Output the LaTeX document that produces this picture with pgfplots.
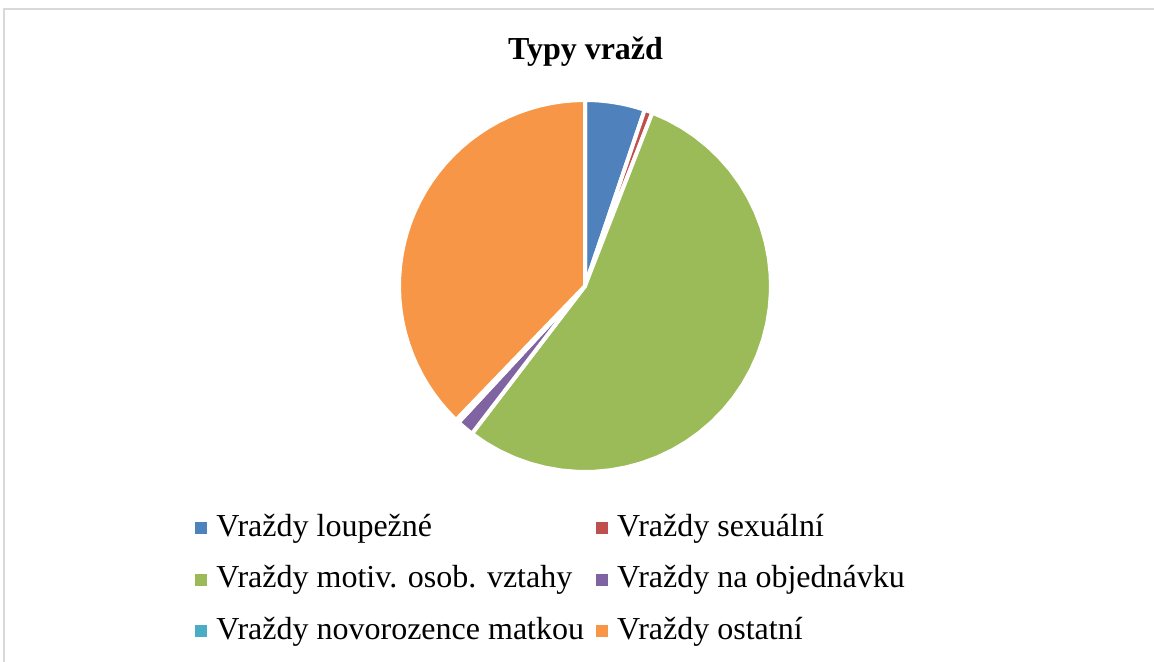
\documentclass[border=0pt]{standalone}
\usepackage{pgfplots}
\pgfplotsset{compat=1.18}
\usepackage{fontspec}
\setmainfont{Liberation Serif}
\definecolor{cBlue}{HTML}{4F81BD}
\definecolor{cRed}{HTML}{C0504D}
\definecolor{cGreen}{HTML}{9BBB59}
\definecolor{cPurple}{HTML}{8064A2}
\definecolor{cCyan}{HTML}{4BACC6}
\definecolor{cOrange}{HTML}{F79646}
\definecolor{frame}{HTML}{D9D9D9}
% slice values (percent)
\def\vA{5.2}
\def\vB{0.7}
\def\vC{54.5}
\def\vD{1.5}
\def\vE{0.3}
\def\vF{37.8}
\begin{document}
\begin{tikzpicture}
\pgfmathsetmacro{\aA}{0}
\pgfmathsetmacro{\aB}{\aA+3.6*\vA}
\pgfmathsetmacro{\aC}{\aB+3.6*\vB}
\pgfmathsetmacro{\aD}{\aC+3.6*\vC}
\pgfmathsetmacro{\aE}{\aD+3.6*\vD}
\pgfmathsetmacro{\aF}{\aE+3.6*\vE}
\pgfmathsetmacro{\aG}{\aF+3.6*\vF}
\begin{axis}[
  at={(0,0)}, anchor=south west,
  scale only axis, width=577pt, height=331pt,
  xmin=0, xmax=1154, ymin=0, ymax=662,
  hide axis, clip=false,
  legend columns=2,
  legend cell align=left,
  legend style={at={(0.16898,0.22659)}, anchor=north west, draw=none, fill=none,
    inner sep=0pt, font=\fontsize{16}{19}\selectfont,
    nodes={inner sep=0pt, text height=12pt, text depth=4pt},
    row sep=9.75pt,
    /tikz/every odd column/.append style={column sep=4.5pt},
    /tikz/every even column/.append style={column sep=6pt}},
  legend image code/.code={\fill[#1,draw=none] (0pt,-3pt) rectangle (6pt,3pt);},
  slice/.style={draw=white, line width=2pt, line join=round, samples=40},
]
\addplot[slice, fill=cBlue, domain=\aA:\aB] ({585+186*sin(x)},{376+186*cos(x)}) -- (axis cs:585,376) -- cycle;
\addlegendentry{Vraždy loupežné}
\addplot[slice, fill=cRed, domain=\aB:\aC] ({585+186*sin(x)},{376+186*cos(x)}) -- (axis cs:585,376) -- cycle;
\addlegendentry{Vraždy sexuální}
\addplot[slice, fill=cGreen, domain=\aC:\aD] ({585+186*sin(x)},{376+186*cos(x)}) -- (axis cs:585,376) -- cycle;
\addlegendentry{Vraždy motiv. osob. vztahy}
\addplot[slice, fill=cPurple, domain=\aD:\aE] ({585+186*sin(x)},{376+186*cos(x)}) -- (axis cs:585,376) -- cycle;
\addlegendentry{Vraždy na objednávku}
\addplot[slice, fill=cCyan, domain=\aE:\aF] ({585+186*sin(x)},{376+186*cos(x)}) -- (axis cs:585,376) -- cycle;
\addlegendentry{Vraždy novorozence matkou}
\addplot[slice, fill=cOrange, domain=\aF:\aG] ({585+186*sin(x)},{376+186*cos(x)}) -- (axis cs:585,376) -- cycle;
\addlegendentry{Vraždy ostatní}
\node[font=\bfseries\fontsize{16}{19}\selectfont, anchor=base] at (axis cs:585.5,602) {Typy vražd};
\draw[frame, line width=0.6pt] (axis cs:4,0) -- (axis cs:4,653) -- (axis cs:1154,653);
\end{axis}
\pgfresetboundingbox
\path (0,0) rectangle (577pt,331pt);
\end{tikzpicture}
\end{document}
